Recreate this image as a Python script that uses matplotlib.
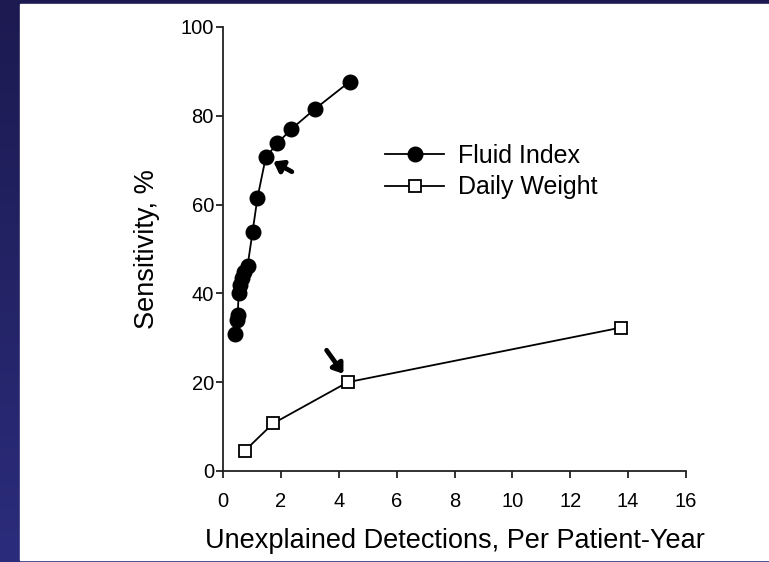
import numpy as np
import matplotlib
matplotlib.use("Agg")
from matplotlib import pyplot as plt

# ── data ──────────────────────────────────────────────────────────────────
fluid_x = [0.42, 0.48, 0.51, 0.54, 0.59, 0.65, 0.71, 0.85, 1.02, 1.19, 1.48, 1.88, 2.36, 3.17, 4.38]
fluid_y = [30.8, 33.9, 35.2, 40.1, 41.9, 43.5, 44.8, 46.2, 53.8, 61.5, 70.7, 73.8, 77.0, 81.5, 87.7]

weight_x = [0.76, 1.73, 4.31, 13.75]
weight_y = [4.6, 10.7, 20.0, 32.3]

x_ticks = [0, 2, 4, 6, 8, 10, 12, 14, 16]
y_ticks = [0, 20, 40, 60, 80, 100]

# arrows: (tail, head) in data units
arrows = [((2.38, 67.4), (1.74, 69.7)),
          ((3.58, 27.2), (4.16, 21.9))]

plt.rcParams['font.family'] = ['Liberation Sans', 'DejaVu Sans']

W, H = 769, 562
fig = plt.figure(figsize=(W / 100, H / 100), dpi=100)

# ── slide background: navy gradient with a white panel ───────────────────
ax_bg = fig.add_axes([0, 0, 1, 1])
ax_bg.set_axis_off()
top = np.array([0x1c, 0x1a, 0x50]) / 255
bot = np.array([0x2b, 0x2c, 0x7c]) / 255
t = np.linspace(0, 1, 256)[:, None]
grad = (top[None, :] * (1 - t) + bot[None, :] * t)[:, None, :]
ax_bg.imshow(grad, aspect='auto', extent=[0, W, H, 0])
ax_bg.add_patch(plt.Rectangle((20, 4), W - 20, 556, color='white', zorder=2))
ax_bg.set_xlim(0, W)
ax_bg.set_ylim(H, 0)

# ── chart ─────────────────────────────────────────────────────────────────
ax = fig.add_axes([223 / W, 1 - 471 / H, (686 - 223) / W, (471 - 27) / H])
ax.patch.set_alpha(0)

ax.plot(fluid_x, fluid_y, color='black', lw=1.3, marker='o', ms=10.5,
        mfc='black', mec='black', label='Fluid Index', clip_on=False)
ax.plot(weight_x, weight_y, color='black', lw=1.3, marker='s', ms=8.5,
        mfc='white', mec='black', mew=1.3, label='Daily Weight', clip_on=False)

for tail, head in arrows:
    ax.annotate('', xy=head, xytext=tail,
                arrowprops=dict(arrowstyle='-|>,head_length=0.55,head_width=0.4',
                                color='black', lw=3.4, shrinkA=0, shrinkB=0))

ax.set_xlim(0, 16)
ax.set_ylim(0, 100)
ax.set_xticks(x_ticks)
ax.set_yticks(y_ticks)
for side in ('top', 'right'):
    ax.spines[side].set_visible(False)
for side in ('left', 'bottom'):
    ax.spines[side].set_linewidth(1.3)
    ax.spines[side].set_color('#222222')
ax.tick_params(direction='out', length=5, width=1.3, labelsize=14.5, colors='#222222',
               labelcolor='black')
ax.tick_params(axis='x', pad=10)
ax.tick_params(axis='y', pad=1.5)

ax.set_xlabel('Unexplained Detections, Per Patient-Year', fontsize=19.5, labelpad=12)
ax.set_ylabel('Sensitivity, %', fontsize=19.5, labelpad=15)

ax.legend(loc='upper left', bbox_to_anchor=(0.35, 0.737), frameon=False,
          fontsize=18, handlelength=2.36, handletextpad=0.56, labelspacing=0.3,
          borderpad=0, borderaxespad=0)

fig.savefig('out.png', dpi=100)
